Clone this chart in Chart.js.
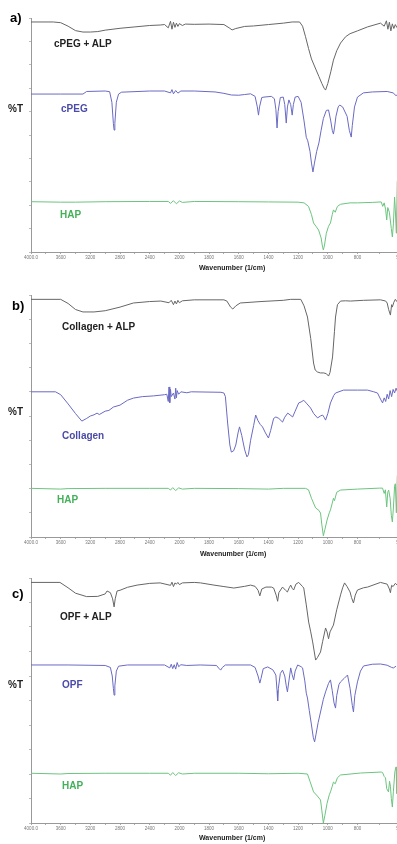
<!DOCTYPE html>
<html>
<head>
<meta charset="utf-8">
<script src="https://cdn.jsdelivr.net/npm/chart.js@4.4.1/dist/chart.umd.min.js"></script>
<style>
  body { margin: 0; width: 397px; height: 844px; overflow: hidden; background: #fff; position: relative; font-family: "Liberation Sans", Arial, sans-serif; }
  canvas { position: absolute; left: 0; }
  .lbl { position: absolute; font-weight: bold; line-height: 1; white-space: nowrap; transform: translateY(-50%); }
</style>
</head>
<body>
<canvas id="chartA" width="415" height="275" style="top:0"></canvas>
<canvas id="chartB" width="415" height="285" style="top:275px"></canvas>
<canvas id="chartC" width="415" height="284" style="top:560px"></canvas>

<div class="lbl" style="left:10px;top:17px;font-size:13px">a)</div>
<div class="lbl" style="left:54px;top:44px;font-size:10px;color:#222">cPEG + ALP</div>
<div class="lbl" style="left:8px;top:109px;font-size:10px;color:#222">%T</div>
<div class="lbl" style="left:61px;top:109px;font-size:10px;color:#4b4ba8">cPEG</div>
<div class="lbl" style="left:60px;top:215px;font-size:10px;color:#44b05a">HAP</div>
<div class="lbl" style="left:199px;top:267px;font-size:7px;color:#222">Wavenumber (1/cm)</div>

<div class="lbl" style="left:12px;top:305px;font-size:13px">b)</div>
<div class="lbl" style="left:62px;top:327px;font-size:10px;color:#222">Collagen + ALP</div>
<div class="lbl" style="left:8px;top:412px;font-size:10px;color:#222">%T</div>
<div class="lbl" style="left:62px;top:436px;font-size:10px;color:#4b4ba8">Collagen</div>
<div class="lbl" style="left:57px;top:500px;font-size:10px;color:#44b05a">HAP</div>
<div class="lbl" style="left:200px;top:553px;font-size:7px;color:#222">Wavenumber (1/cm)</div>

<div class="lbl" style="left:12px;top:593px;font-size:13px">c)</div>
<div class="lbl" style="left:60px;top:617px;font-size:10px;color:#222">OPF + ALP</div>
<div class="lbl" style="left:8px;top:685px;font-size:10px;color:#222">%T</div>
<div class="lbl" style="left:62px;top:685px;font-size:10px;color:#4b4ba8">OPF</div>
<div class="lbl" style="left:62px;top:786px;font-size:10px;color:#44b05a">HAP</div>
<div class="lbl" style="left:199px;top:837px;font-size:7px;color:#222">Wavenumber (1/cm)</div>

<script>
/* x axis labels (wavenumber, 1/cm) */
const xTickLabels = [4000, 3600, 3200, 2800, 2400, 2000, 1800, 1600, 1400, 1200, 1000, 800, 500];

/* spectra: [wavenumber, %T as stacked in the plot] */
const cpegAlp = [[4000,98.3],[3700,98.3],[3600,98],[3500,96.5],[3400,94.6],[3300,94],[3200,94],[3100,94.2],[3000,94.8],[2800,95.6],[2600,96.2],[2400,96.8],[2260,97],[2200,97.2],[2150,95.8],[2120,98.6],[2100,95.2],[2080,98.2],[2060,96],[2040,97.8],[2020,96.4],[2000,97.6],[1980,96.8],[1960,97.4],[1900,97.3],[1800,97.4],[1700,97.2],[1665,95.8],[1645,94.9],[1620,95.5],[1560,96.4],[1500,96.6],[1400,97.2],[1300,97.8],[1240,98.3],[1190,98.3],[1170,96.5],[1150,92],[1130,87],[1110,82.5],[1090,79.5],[1060,75],[1040,72],[1025,70],[1015,69.2],[1000,72],[980,77],[962,82],[940,86],[914,89.3],[880,92],[850,93.3],[800,94.5],[732,96.2],[645,97.8],[620,96.5],[605,98.8],[595,95.2],[585,98.2],[575,94.5],[565,97.5],[555,95.5],[545,97.2],[535,96],[525,97]];
const cpeg = [[4000,67.5],[3600,67.5],[3300,67.5],[3250,68.6],[3000,68.8],[2940,68.5],[2910,64],[2890,55],[2880,52.1],[2870,55],[2850,64],[2820,67.5],[2780,68.3],[2400,68.8],[2200,68.8],[2120,68],[2100,69.4],[2080,67.6],[2050,69],[2020,67.9],[1990,68.8],[1900,68.8],[1760,68.4],[1700,67.8],[1650,67.1],[1600,67],[1560,67.3],[1520,67.6],[1490,66.5],[1475,62],[1467,58.5],[1460,62],[1445,66],[1430,66.2],[1380,66.5],[1360,65.5],[1350,61],[1342,53],[1335,60],[1320,66],[1300,66.2],[1290,63],[1280,55.1],[1272,62],[1262,65],[1250,63],[1240,58.5],[1232,63],[1220,66.2],[1200,66.5],[1180,64],[1160,56],[1145,49],[1135,47.5],[1120,43],[1110,38],[1100,34.2],[1090,38],[1075,43],[1060,46.6],[1045,52],[1030,57],[1010,60.5],[995,60.7],[980,56],[970,52],[962,50.4],[955,53],[945,58],[930,62],[920,62.8],[900,62],[870,58],[855,52],[842,49.1],[835,54],[820,62],[800,66.2],[760,68],[700,68.4],[600,68.6],[560,68],[540,66.8],[520,68]];
const hapA = [[4000,21.5],[3600,21.3],[3400,21.3],[3000,21.5],[2400,21.6],[2150,21.6],[2120,20.8],[2080,21.9],[2040,20.6],[2000,21.8],[1980,21.2],[1900,21.6],[1600,21.5],[1400,21.4],[1200,21.3],[1160,21],[1130,19.5],[1110,16],[1096,12.4],[1080,11],[1062,9.4],[1045,6],[1035,2],[1030,0.9],[1022,3],[1010,8],[995,11],[982,12.4],[970,16],[962,18],[950,17],[935,19.5],[914,20.4],[850,21],[800,21],[700,21.2],[640,21.4],[630,19.5],[620,21],[610,18],[603,13.7],[596,19],[585,17],[572,10],[565,6.4],[558,12],[550,23.5],[545,18],[538,8],[532,30],[520,36]];

const collagenAlp = [[4000,98.2],[3600,98.2],[3500,96.5],[3400,94],[3300,93],[3150,93],[3000,93.5],[2800,95],[2620,96.7],[2400,97.3],[2250,97.5],[2140,96.8],[2110,97.8],[2080,96],[2060,97.5],[2040,96.3],[2020,97.8],[2000,96.8],[1980,97.6],[1900,98],[1700,98],[1680,97.5],[1655,95],[1640,94.2],[1620,95.5],[1590,96.7],[1450,97.3],[1300,97.8],[1250,98.2],[1182,98.2],[1160,95.5],[1137,90.9],[1115,82],[1096,71.9],[1085,69],[1070,68.2],[1050,67.8],[1028,67.8],[1010,67.5],[995,66.5],[985,68],[968,74.4],[955,85],[948,90.9],[935,96],[914,97.5],[880,97.6],[847,97.5],[760,97.8],[645,98],[610,97.5],[600,96.7],[590,94],[578,91.7],[570,96],[565,95],[555,97],[545,98.2],[530,97]];
const collagen = [[4000,60],[3670,60],[3600,58.8],[3500,55],[3400,51],[3315,47.9],[3250,49],[3200,50],[3150,50.5],[3110,51.2],[3080,50.6],[3000,52],[2950,52.3],[2890,53.7],[2800,54.5],[2700,56.5],[2620,57.4],[2500,58],[2350,58.3],[2200,58.8],[2170,59],[2150,56],[2140,62],[2130,55.5],[2120,61],[2110,58],[2080,59.5],[2060,57],[2050,61.5],[2040,57.5],[2030,60.5],[2010,59],[1990,60],[1950,59.6],[1920,60],[1720,59.8],[1700,59.5],[1690,58],[1675,47.1],[1660,38],[1650,35.1],[1635,35.6],[1620,38],[1605,43],[1595,45.5],[1580,42],[1560,36],[1545,33.1],[1535,34],[1520,40],[1500,46],[1486,50.4],[1470,48],[1455,46.5],[1440,45.5],[1420,43],[1400,40.9],[1385,44],[1365,49],[1350,49.6],[1330,49],[1305,47.5],[1290,49.5],[1270,51.2],[1255,50.5],[1237,49.6],[1220,52],[1196,55.4],[1180,55.8],[1162,56.5],[1140,55],[1116,53.3],[1095,51],[1069,49.2],[1050,50],[1035,50.4],[1025,49.5],[1015,48.3],[1000,51],[982,55.4],[960,58.5],[948,59.5],[894,60.7],[800,60.7],[732,60.7],[690,60],[665,59.5],[645,57],[631,55.4],[620,57.5],[610,56],[600,59],[590,57],[580,60.5],[570,58],[560,61],[550,59.5],[540,61.5],[530,60]];
const hapB = [[4000,20.1],[3600,19.8],[3500,20],[3000,20.1],[2400,20.1],[2150,20.1],[2120,19.4],[2090,20.4],[2050,19.2],[2010,20.3],[1980,19.8],[1900,20.1],[1600,20],[1400,19.8],[1300,20.1],[1150,20.1],[1130,19.5],[1110,16],[1082,12],[1060,11],[1049,9.9],[1040,5],[1030,0.5],[1020,3],[1005,7],[990,10],[982,11.2],[970,14],[962,16],[955,15],[940,18.5],[914,19.4],[800,19.8],[650,20.2],[631,20.2],[620,18],[612,19.5],[603,12.4],[596,18.5],[590,19.4],[580,16],[572,9],[565,6.2],[558,12],[550,21],[545,22],[538,10],[532,25],[520,31]];

const opfAlp = [[4000,98.2],[3610,98.2],[3500,96],[3400,93.8],[3250,92.4],[3100,92.5],[3000,93.5],[2975,94.7],[2930,94],[2900,91.5],[2880,88.2],[2865,91.5],[2840,94.7],[2800,95],[2700,96.2],[2570,97.1],[2400,97.8],[2260,98],[2120,97],[2100,98.3],[2080,96.5],[2060,98],[2040,97.5],[2020,98.2],[2000,97.3],[1980,98],[1900,98.2],[1857,98],[1767,97.1],[1700,96.5],[1633,95.9],[1560,96.6],[1520,97.1],[1490,96.6],[1470,95],[1458,92.7],[1445,95.5],[1417,96.3],[1380,96.3],[1365,95.9],[1348,93],[1338,90.5],[1330,94],[1305,96.3],[1285,95],[1272,94.3],[1260,96],[1250,97.1],[1240,95.8],[1230,95.1],[1215,97.5],[1196,98.2],[1170,96.5],[1162,95.9],[1145,89],[1129,82],[1115,78],[1102,73.9],[1082,66.5],[1070,67.5],[1049,69.8],[1035,74],[1015,79.6],[1005,78],[995,75.2],[985,78],[962,80.8],[940,87],[914,93.1],[900,96],[887,98],[870,96.5],[850,94.3],[840,92],[827,89.8],[815,93],[800,95.1],[760,96],[732,96.3],[645,98.2],[600,97.5],[585,95.5],[578,94],[570,97],[560,96.5],[545,97.8],[530,97]];
const opf = [[4000,64.5],[3500,64.5],[3000,64.3],[2930,63.5],[2905,60],[2890,55],[2880,52.2],[2870,56],[2850,62],[2820,64],[2700,64.5],[2200,64.5],[2130,63.3],[2110,64.8],[2090,63],[2070,64.6],[2050,62.8],[2030,65.5],[2010,63.8],[1990,64.6],[1950,64.3],[1860,64.5],[1750,64.3],[1735,63.2],[1722,62.4],[1710,63.5],[1690,64.5],[1520,64.5],[1490,63.5],[1470,60],[1458,57.1],[1450,59],[1435,63],[1405,63.7],[1370,62.5],[1350,60.4],[1342,54],[1338,49.8],[1333,55],[1320,61],[1305,62.4],[1290,60],[1280,56],[1272,53.5],[1262,58],[1250,63.3],[1240,60.5],[1230,58.4],[1220,62],[1203,64.5],[1180,63.8],[1170,63.3],[1155,58],[1145,53],[1137,51],[1125,46],[1110,40],[1098,35],[1089,33.1],[1080,36],[1065,41],[1049,45.3],[1030,50.5],[1015,53.5],[995,57],[982,58.4],[970,54],[958,49],[948,46.9],[940,52],[925,56.5],[914,57.6],[890,59],[867,60.4],[850,55],[835,48],[827,45.3],[818,52],[800,57.6],[780,62],[759,64.1],[700,64.8],[645,64.9],[600,64.4],[570,63.5],[558,63.3],[540,64]];
const hapC = [[4000,20.3],[3600,20],[3500,20.2],[3000,20.3],[2400,20.3],[2150,20.3],[2120,19.5],[2090,20.6],[2050,19.4],[2010,20.5],[1980,20],[1900,20.3],[1600,20.3],[1400,20.1],[1200,20.3],[1137,20],[1120,17],[1096,12.7],[1070,11],[1049,9.4],[1040,5],[1030,0],[1020,3],[1005,8],[990,11.5],[982,12.7],[970,15],[962,16.7],[950,16],[935,18.5],[914,19.6],[780,20.4],[640,20.8],[631,20.6],[620,19],[611,18.4],[603,14],[591,12.7],[584,17],[578,15],[572,10],[565,6.5],[558,13],[548,21],[540,22.9],[534,12],[528,28],[520,34]];

const COLORS = { black: "#666666", blue: "#6a6ac4", green: "#6cc47e" };

/* FTIR axis: half scale above 2000 1/cm, double scale below */
const pos = (w) => (w >= 2000 ? (4000 - w) / 400 : 5 + (2000 - w) / 200);

const majorPos = xTickLabels.map(pos);
const minorPos = [];
for (let i = 0; i < majorPos.length - 1; i++) {
  minorPos.push((majorPos[i] + majorPos[i + 1]) / 2);
}

const tickText = (v) => {
  const i = majorPos.findIndex((p) => Math.abs(p - v) < 1e-6);
  if (i < 0) return "";
  const w = xTickLabels[i];
  return i === 0 || i === xTickLabels.length - 1 ? w.toFixed(1) : String(w);
};

/**
 * Draws one panel of stacked spectra
 * @param {string} id canvas id
 * @param {Array} series [[pairs, color], ...]
 * @param {number} padTop
 * @param {number} xHeight
 */
const makePanel = (id, series, padTop, xHeight) => {
  const ctx = document.getElementById(id);
  new Chart(ctx, {
    type: "line",
    data: {
      datasets: series.map(([pairs, color]) => ({
        data: pairs.map(([w, t]) => ({ x: pos(w), y: t })),
        borderColor: color,
        borderWidth: 1,
        pointRadius: 0,
        tension: 0,
        fill: false,
      })),
    },
    options: {
      responsive: false,
      animation: false,
      events: [],
      layout: { padding: { top: padTop, right: 13, left: 0, bottom: 0 } },
      plugins: { legend: { display: false }, tooltip: { enabled: false } },
      scales: {
        x: {
          type: "linear",
          min: 0,
          max: pos(xTickLabels[xTickLabels.length - 1]),
          afterBuildTicks: (s) => {
            s.ticks = [...majorPos, ...minorPos]
              .sort((a, b) => a - b)
              .map((v) => ({ value: v }));
          },
          ticks: {
            autoSkip: false,
            maxRotation: 0,
            padding: 1,
            color: "#777",
            font: { size: 4.5, family: "Liberation Sans" },
            callback: (v) => tickText(v),
          },
          grid: { drawOnChartArea: false, tickLength: 2, color: "#aaa" },
          border: { color: "#999" },
          afterFit: (s) => {
            s.height = xHeight;
          },
        },
        y: {
          min: 0,
          max: 100,
          ticks: { display: false, stepSize: 10 },
          grid: { drawOnChartArea: false, tickLength: 2, color: "#bbb" },
          border: { color: "#999" },
          afterFit: (s) => {
            s.width = 31;
          },
        },
      },
    },
  });
};

document.addEventListener("DOMContentLoaded", () => {
  try {
    makePanel("chartA", [[cpegAlp, COLORS.black], [cpeg, COLORS.blue], [hapA, COLORS.green]], 18, 23);
    makePanel("chartB", [[collagenAlp, COLORS.black], [collagen, COLORS.blue], [hapB, COLORS.green]], 20, 23);
    makePanel("chartC", [[opfAlp, COLORS.black], [opf, COLORS.blue], [hapC, COLORS.green]], 18, 21);
  } catch (error) {
    console.log(error);
  }
});
</script>
</body>
</html>
